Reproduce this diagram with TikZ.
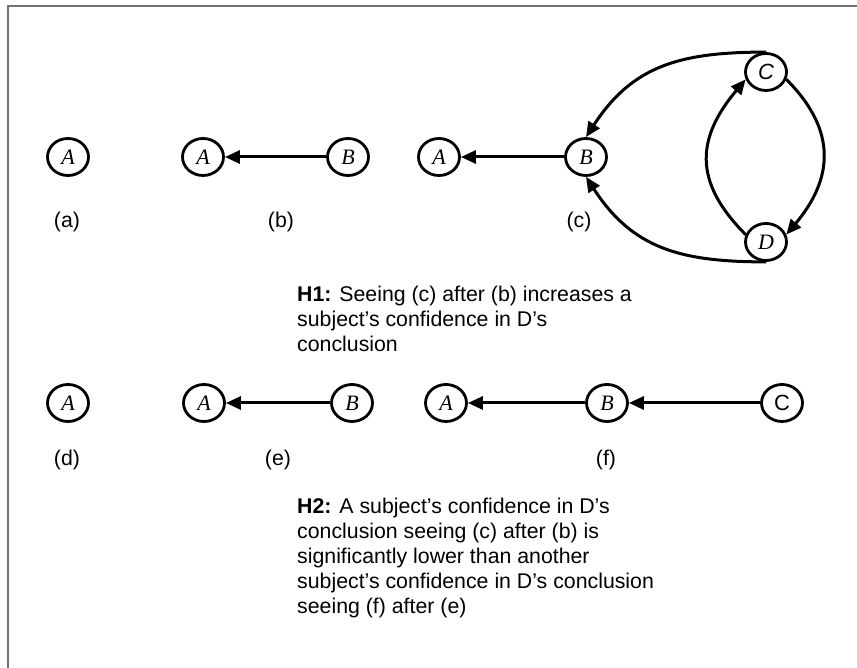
\documentclass[tikz,border=0pt]{standalone}
\usepackage{fontspec}
\setmainfont{Liberation Sans}
\newfontfamily\knotenschrift{Liberation Serif}
\usepackage{tikz}
\usetikzlibrary{shapes.geometric, arrows.meta}

\begin{document}
\begin{tikzpicture}[x=1pt, y=1pt,
		knoten/.style={draw, ellipse, line width=2.8pt, minimum width=41pt, minimum height=37pt, inner sep=0pt,
			font=\knotenschrift\itshape\fontsize{22}{22}\selectfont},
		pfeil/.style={->, line width=3pt},
		>={Triangle[length=15pt, width=13pt]},   %Pfeilspitzen
		font=\fontsize{21.3}{25}\selectfont]
	\useasboundingbox (0,0) rectangle (857,668);
	%Rahmen
	\draw[color=black!55, line width=1.5pt] (857,662) -- (8,662) -- (8,0);
	% Graphen (a), (b), (c)
	\node[knoten] (Aa) at (68,511) {A};
	\node[knoten] (Ab) at (203,511) {A};
	\node[knoten] (Bb) at (348,511) {B};
	\node[knoten] (Ac) at (439,511) {A};
	\node[knoten] (Bc) at (586,511) {B};
	\node[knoten, font=\fontsize{22}{22}\selectfont\itshape] (Cc) at (766,596) {C};
	\node[knoten] (Dc) at (766,426) {D};
	\draw[pfeil] (Bb) -- (Ab);
	\draw[pfeil] (Bc) -- (Ac);
	\draw[pfeil] (Cc.north) to[out=180, in=57, looseness=1.1] (Bc.north);
	\draw[pfeil] (Dc.south) to[out=180, in=-57, looseness=1.1] (Bc.south);
	\draw[pfeil] (Cc.-20) to[out=-45, in=50, looseness=1.2] (Dc.20);
	\draw[pfeil] (Dc.160) to[out=135, in=-130, looseness=1.25] (Cc.200);
	% Graphen (d), (e), (f)
	\node[knoten] (Ad) at (68,265) {A};
	\node[knoten] (Ae) at (204,265) {A};
	\node[knoten] (Be) at (352,265) {B};
	\node[knoten] (Af) at (446,265) {A};
	\node[knoten] (Bf) at (607,265) {B};
	\node[knoten, font=\fontsize{22}{22}\selectfont] (Cf) at (782,265) {C};
	\draw[pfeil] (Be) -- (Ae);
	\draw[pfeil] (Bf) -- (Af);
	\draw[pfeil] (Cf) -- (Bf);
	% Beschriftungen
	\foreach \x/\y/\t in {67/446/a, 281/446/b, 579/446/c, 67/208/d, 278/208/e, 606/208/f}
		\node[inner sep=0pt] (l\t) at (\x,\y) {(\t)};
	% Hypothesen
	\node[anchor=north west, align=left, inner sep=0pt] (hyp1) at (297,382.5)
		{\textbf{H1:} Seeing (c) after (b) increases a\\subject’s confidence in D’s\\conclusion};
	\node[anchor=north west, align=left, inner sep=0pt] (hyp2) at (297,170.5)
		{\textbf{H2:} A subject’s confidence in D’s\\conclusion seeing (c) after (b) is\\significantly lower than another\\subject’s confidence in D’s conclusion\\seeing (f) after (e)};
\end{tikzpicture}
\end{document}
